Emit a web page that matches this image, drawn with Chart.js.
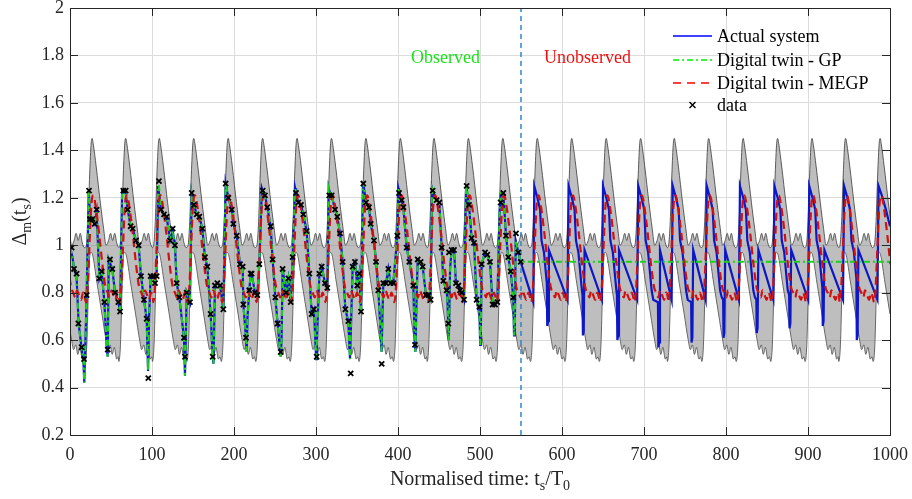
<!DOCTYPE html>
<html>
<head>
<meta charset="utf-8">
<script src="https://cdn.jsdelivr.net/npm/chart.js@4.4.1/dist/chart.umd.min.js"></script>
<style>
  html, body { margin: 0; padding: 0; background: #fff; }
  #wrap { width: 912px; height: 499px; }
</style>
</head>
<body>
<div id="wrap"><canvas id="c" width="912" height="499"></canvas></div>
<script>
// axis ticks
const xTickValues = [0, 100, 200, 300, 400, 500, 600, 700, 800, 900, 1000];
const yTickValues = [0.2, 0.4, 0.6, 0.8, 1, 1.2, 1.4, 1.6, 1.8, 2];
const legendLabels = ['Actual system', 'Digital twin - GP', 'Digital twin - MEGP', 'data'];
const splitTime = 550;

// times of the grey band peaks (one per cycle)
const bandPeakTimes = [-15, 27, 68, 109, 151, 193, 235, 277, 319, 361, 403, 444, 486, 528,
  570, 612, 654, 696, 737, 779, 821, 863, 905, 946, 988];

// one cycle of the band and of the MEGP mean, offsets from the band peak
const upperOffsets = [-7, -5, -3, -1.2, 0, 1.2, 5, 10, 14, 17, 20, 22.5, 25, 27.5, 30, 32.5];
const upperValues  = [1.00, 1.10, 1.30, 1.43, 1.45, 1.43, 1.33, 1.18, 1.07, 1.00, 1.02, 1.05, 1.02, 1.05, 1.01, 0.99];
const lowerOffsets = [-8.5, -6.5, -4.5, -3, -1.5, 0.5, 6, 12, 17, 19.5, 22, 24.5, 27, 30, 32];
const lowerValues  = [0.51, 0.58, 0.82, 0.95, 0.97, 0.96, 0.84, 0.71, 0.60, 0.56, 0.58, 0.54, 0.57, 0.52, 0.53];
const megpOffsets  = [-7.5, -5.5, -3.5, -1.5, 0, 1.5, 4.5, 8.5, 12.5, 16.5, 19, 21.5, 23.5, 26, 28.5, 31, 33];
const megpValues   = [0.76, 0.82, 0.98, 1.14, 1.20, 1.21, 1.16, 1.05, 0.92, 0.82, 0.80, 0.78, 0.81, 0.79, 0.77, 0.80, 0.78];

// actual system [t, value]
const actualSystem = [
  [0,0.99],[3,0.95],[5,0.90],[8,0.87],[10.5,0.67],[14,0.57],[16.5,0.50],[17.4,0.42],[18.5,0.55],[20.3,0.79],[22.8,1.23],
  [24.5,1.12],[27,1.11],[30,1.09],[32.5,1.14],[35.8,0.86],[38.6,0.89],[41.9,0.76],[45,0.56],[46,0.53],[47.2,0.94],[51.6,0.90],[54.9,0.80],[58.9,0.76],[61,0.72],[63.5,1.23],
  [65,1.23],[68,1.22],[70.3,1.15],[74,1.08],[76.4,1.07],[80.5,1.02],[83.7,1.0],[86.6,0.87],[90.2,0.77],[93.5,0.69],[95.2,0.47],[96.5,0.70],[98.4,0.87],[101.6,0.87],[103.7,0.85],[105.7,0.87],[107.5,1.25],
  [108.5,1.25],[111,1.15],[114.6,1.13],[117.9,1.12],[122,1.02],[125.2,1.06],[128,1.0],[130.1,0.84],[133.3,0.78],[139,0.61],[140.2,0.45],[141.2,0.60],[142.3,0.80],[146.3,0.76],[148.4,1.22],
  [151.2,1.17],[154.5,1.13],[157.7,1.12],[161.4,1.07],[164.6,0.95],[167.5,0.91],[171.5,0.71],[174,0.53],[175,0.50],[176.8,0.83],[179.7,0.84],[183,0.83],[187,0.73],[189.8,1.26],
  [193.1,1.20],[197.2,1.15],[199.2,1.09],[203.3,1.04],[207.3,0.92],[210.6,0.91],[211.4,0.75],[214.6,0.61],[215.5,0.55],[216.5,0.70],[218.7,0.81],[220.3,0.88],[222,0.87],[225.6,0.80],[228.4,0.79],[230.9,0.92],[234,1.24],
  [235,1.23],[237.8,1.21],[240.6,1.16],[244.7,1.08],[247.1,0.94],[250.4,0.78],[253.2,0.67],[256.9,0.53],[258,0.60],[259.3,0.90],[263.4,0.80],[266.3,0.86],[269.1,0.76],[271.5,0.95],[274.5,1.24],
  [275.6,1.22],[278.4,1.18],[281.7,1.17],[284.5,1.13],[288.6,1.06],[291.9,0.88],[294.7,0.71],[297.5,0.73],[300.2,0.52],[301.2,0.60],[304.1,0.88],[306.9,0.91],[311,0.84],[313.8,0.82],[315.5,1.24],
  [316.2,1.23],[319.1,1.21],[323.2,1.15],[326,1.12],[329.3,1.05],[332.5,0.93],[335.8,0.73],[339.4,0.68],[341.5,0.52],[343,0.70],[344.7,0.91],[347.5,0.93],[350.4,0.83],[352.8,0.88],[354.9,0.72],[357.2,1.26],
  [357.7,1.26],[361,1.18],[364.6,1.16],[366.7,1.09],[370.7,1.02],[373.2,0.93],[376,0.81],[379,0.62],[380,0.55],[381,0.70],[382.1,0.84],[385.4,0.84],[388.2,0.90],[391,0.84],[394.3,0.84],[399.2,1.04],[400.5,1.24],
  [401.2,1.23],[404.5,1.19],[406.5,1.16],[410.6,0.99],[413.8,0.93],[418.7,0.83],[420.3,0.60],[421.2,0.55],[422.5,0.75],[424,0.94],[427.6,0.93],[430.1,0.91],[434.1,0.79],[437,0.79],[439.8,0.77],[441.5,1.24],
  [442.3,1.23],[447.1,1.19],[450.4,1.18],[453.2,0.99],[455.3,0.85],[459.3,0.81],[460.5,0.75],[461.4,0.64],[462,0.60],[463.5,0.90],[465.4,0.98],[468.3,0.98],[470.7,0.84],[473.6,0.83],[475.6,0.81],[477.6,0.80],[480.5,0.77],[483,1.25],
  [483.7,1.25],[486.6,1.17],[489.8,1.03],[492.7,1.01],[495.9,0.77],[499.2,0.74],[500.2,0.58],[501,0.62],[502,0.92],[506.1,0.97],[508.9,0.96],[512.2,0.93],[515.4,0.75],[518.3,0.75],[521.1,0.76],[524,1.15],[525.5,1.22],
  [528.4,1.22],[531.7,1.04],[534.5,0.95],[537.4,0.89],[540.6,0.78],[541.5,0.62],[542.5,0.65],[543.5,1.02],[546.7,0.97],[549.6,0.93],
  // unobserved part
  [565,0.76],[566.2,1.25],[570,1.20],[573.3,1.15],[575,1.02],[578,0.97],[581.5,0.84],[582,0.66],[583,0.68],[584,0.98],
  [606.7,0.77],[608,1.25],[612,1.20],[615.3,1.15],[617,1.02],[620,0.97],[624.3,0.81],[625,0.79],[625.5,0.62],[626.5,0.64],[627.5,0.98],
  [648.7,0.77],[650,1.25],[654,1.20],[657.3,1.15],[659,1.02],[662,0.97],[666.3,0.81],[667,0.79],[667.5,0.60],[668.5,0.62],[669.5,0.98],
  [691.7,0.77],[693,1.25],[697,1.20],[700.3,1.15],[702,1.02],[705,0.97],[709.3,0.81],[711.3,0.77],[717,0.76],[717.5,0.57],[718.5,0.59],[719.5,0.98],
  [733.7,0.77],[735,1.25],[739,1.20],[742.3,1.15],[744,1.02],[747,0.97],[751.3,0.81],[753.3,0.77],[757.5,0.76],[758,0.59],[759,0.61],[760,0.98],
  [775.2,0.77],[776.5,1.25],[780.5,1.20],[783.8,1.15],[785.5,1.02],[788.5,0.97],[792.8,0.81],[794.8,0.78],[796.5,0.77],[797,0.61],[798,0.63],[799,0.98],
  [815.7,0.77],[817,1.25],[821,1.20],[824.3,1.15],[826,1.02],[829,0.97],[833.3,0.81],[835.3,0.78],[837,0.77],[837.5,0.63],[838.5,0.65],[839.5,0.98],
  [857.7,0.77],[859,1.25],[863,1.20],[866.3,1.15],[868,1.02],[871,0.97],[875.3,0.81],[877,0.79],[877.5,0.65],[878.5,0.67],[879.5,0.98],
  [900.2,0.77],[901.5,1.25],[905.5,1.20],[908.8,1.15],[910.5,1.02],[913.5,0.97],[917.5,0.82],[918,0.66],[919,0.68],[920,0.98],
  [942.7,0.77],[944,1.25],[948,1.20],[951.3,1.15],[953,1.02],[956,0.97],[959,0.86],[959.5,0.60],[960.5,0.62],[961.5,0.98],
  [984.7,0.77],[986,1.25],[990,1.21],[995,1.15],[1000,1.08],[1003,1.0]
];

// GP: follows the measurements while observed, then a flat forecast
const gpForecast = [[550,0.93],[1000,0.93]];

// measured data [t, value]
const measured = [
  [2.0,0.99],[4.9,0.90],[8.1,0.88],[10.2,0.67],[14.2,0.57],[17.1,0.52],[20.3,0.79],[23.2,1.23],[24.4,1.11],[27.2,1.11],[30.1,1.09],[32.5,1.15],
  [35.8,0.86],[38.6,0.89],[41.9,0.76],[46.0,0.56],[48.8,0.94],[51.6,0.90],[54.9,0.80],[58.9,0.76],[61.0,0.72],[65.0,1.23],[67.9,1.23],[70.3,1.15],
  [74.0,1.08],[76.4,1.07],[80.5,1.02],[83.7,1.00],[86.6,0.87],[90.2,0.77],[93.5,0.69],[95.5,0.44],[98.4,0.87],[101.6,0.87],[103.7,0.84],[105.7,0.87],
  [108.5,1.27],[111.0,1.15],[114.6,1.13],[117.9,1.12],[122.0,1.02],[125.2,1.07],[128.0,1.00],[130.1,0.84],[133.3,0.78],[139.0,0.61],[140.2,0.53],
  [142.3,0.80],[146.3,0.76],[148.4,1.22],[151.2,1.17],[154.5,1.13],[157.7,1.12],[161.4,1.07],[164.6,0.95],[167.5,0.91],[171.5,0.71],[174.0,0.53],
  [176.8,0.83],[179.7,0.84],[183.0,0.83],[187.0,0.73],[189.8,1.26],[193.1,1.20],[197.2,1.15],[199.2,1.09],[203.3,1.04],[207.3,0.92],[210.6,0.91],
  [211.4,0.75],[214.6,0.61],[218.7,0.81],[220.3,0.88],[221.5,0.88],[225.6,0.80],[228.4,0.79],[230.9,0.92],[235.0,1.23],[237.8,1.21],[240.6,1.16],
  [244.7,1.08],[247.1,0.94],[250.4,0.78],[253.2,0.67],[256.9,0.55],[259.3,0.90],[263.4,0.80],[266.3,0.86],[269.1,0.76],[271.5,0.95],[275.6,1.22],
  [278.4,1.18],[281.7,1.17],[284.5,1.13],[288.6,1.06],[291.9,0.88],[294.7,0.71],[297.5,0.73],[300.8,0.53],[304.1,0.88],[306.9,0.91],[311.0,0.84],
  [313.8,0.82],[316.2,1.21],[319.1,1.21],[323.2,1.15],[326.0,1.12],[329.3,1.05],[332.5,0.93],[335.8,0.73],[339.4,0.68],[342.3,0.46],[344.7,0.91],
  [347.5,0.93],[350.4,0.83],[352.8,0.88],[354.9,0.72],[357.7,1.26],[361.0,1.18],[364.6,1.16],[366.7,1.09],[370.7,1.02],[373.2,0.93],[376.0,0.81],
  [380.1,0.50],[382.1,0.84],[385.4,0.84],[388.2,0.90],[391.0,0.84],[394.3,0.84],[399.2,1.04],[401.2,1.22],[404.5,1.19],[406.5,1.16],[410.6,0.99],
  [413.8,0.93],[418.7,0.83],[420.7,0.58],[424.0,0.94],[427.6,0.93],[430.1,0.91],[434.1,0.79],[437.0,0.79],[439.8,0.77],[442.3,1.23],[447.1,1.19],
  [450.4,1.18],[453.2,0.99],[455.3,0.85],[459.3,0.81],[461.4,0.67],[462.2,0.97],[465.4,0.98],[468.3,0.98],[470.7,0.84],[473.6,0.83],[475.6,0.81],
  [477.6,0.80],[480.5,0.77],[483.7,1.25],[486.6,1.17],[489.8,1.03],[492.7,1.01],[495.9,0.77],[499.2,0.74],[502.0,0.92],[506.1,0.97],[508.9,0.96],
  [512.2,0.93],[515.4,0.75],[518.3,0.75],[521.1,0.76],[525.2,1.18],[528.4,1.22],[531.7,1.04],[534.5,0.95],[537.4,0.89],[540.6,0.78],[543.9,1.05],
  [546.7,0.97],[549.6,0.93]
];

const BLUE = '#0c17c8', GREEN = '#19d219', RED = '#cf1111';

// repeat one read cycle at every peak time
function cycles(offsets, values) {
  const pts = [];
  bandPeakTimes.forEach(p => offsets.forEach((o, i) => pts.push({ x: p + o, y: values[i] })));
  return pts;
}
const pairs = arr => arr.map(d => ({ x: d[0], y: d[1] }));

const gpLine = pairs(actualSystem.filter(d => d[0] < splitTime)).concat(pairs(gpForecast));

function drawRich(ctx, parts, x, y) {
  // parts: [text, isSub]; centred on x, baseline y
  const big = '20px "Liberation Serif"', small = '14px "Liberation Serif"';
  let w = 0;
  parts.forEach(p => { ctx.font = p[1] ? small : big; w += ctx.measureText(p[0]).width; });
  let cx = x - w / 2;
  parts.forEach(p => {
    ctx.font = p[1] ? small : big;
    ctx.fillText(p[0], cx, p[1] ? y + 5 : y);
    cx += ctx.measureText(p[0]).width;
  });
}

const framePlugin = {
  id: 'frame',
  afterDraw(chart) {
    const { ctx, chartArea: a, scales: { x, y } } = chart;
    ctx.save();
    ctx.strokeStyle = '#262626';
    ctx.lineWidth = 1;
    ctx.beginPath();
    xTickValues.forEach(v => {
      const px = Math.round(x.getPixelForValue(v)) + 0.5;
      ctx.moveTo(px, a.bottom); ctx.lineTo(px, a.bottom - 8);
      ctx.moveTo(px, a.top); ctx.lineTo(px, a.top + 8);
    });
    yTickValues.forEach(v => {
      const py = Math.round(y.getPixelForValue(v)) + 0.5;
      ctx.moveTo(a.left, py); ctx.lineTo(a.left + 8, py);
      ctx.moveTo(a.right, py); ctx.lineTo(a.right - 8, py);
    });
    ctx.stroke();
    ctx.strokeRect(Math.round(a.left) + 0.5, Math.round(a.top) + 0.5, Math.round(a.right - a.left), Math.round(a.bottom - a.top));

    // axis titles
    ctx.fillStyle = '#262626';
    ctx.textBaseline = 'alphabetic';
    ctx.textAlign = 'left';
    drawRich(ctx, [['Normalised time: t', false], ['s', true], ['/T', false], ['0', true]], (a.left + a.right) / 2, 485);
    ctx.save();
    ctx.translate(26, (a.top + a.bottom) / 2);
    ctx.rotate(-Math.PI / 2);
    drawRich(ctx, [['\u0394', false], ['m', true], ['(t', false], ['s', true], [')', false]], 0, 0);
    ctx.restore();

    // region labels
    ctx.font = '18px "Liberation Serif"';
    ctx.textAlign = 'center';
    ctx.textBaseline = 'middle';
    ctx.fillStyle = '#1ee01e';
    ctx.fillText('Observed', x.getPixelForValue(458), y.getPixelForValue(1.79));
    ctx.fillStyle = '#ee1111';
    ctx.fillText('Unobserved', x.getPixelForValue(631), y.getPixelForValue(1.79));

    // legend
    const lx0 = 673, lx1 = 712, tx = 717;
    const rows = [36, 60, 83, 105];
    const styles = [
      { c: '#0000ff', d: [] },
      { c: '#00ee00', d: [6, 3, 2, 3] },
      { c: '#ff0000', d: [8, 6] }
    ];
    styles.forEach((s, i) => {
      ctx.strokeStyle = s.c; ctx.lineWidth = 1.6; ctx.setLineDash(s.d);
      ctx.beginPath(); ctx.moveTo(lx0, rows[i]); ctx.lineTo(lx1, rows[i]); ctx.stroke();
    });
    ctx.setLineDash([]);
    ctx.strokeStyle = '#000'; ctx.lineWidth = 1.4;
    const mx = (lx0 + lx1) / 2, my = rows[3];
    ctx.beginPath();
    ctx.moveTo(mx - 3, my - 3); ctx.lineTo(mx + 3, my + 3);
    ctx.moveTo(mx + 3, my - 3); ctx.lineTo(mx - 3, my + 3);
    ctx.stroke();
    ctx.font = '18px "Liberation Serif"';
    ctx.fillStyle = '#000';
    ctx.textAlign = 'left';
    legendLabels.forEach((t, i) => ctx.fillText(t, tx, rows[i] + 1));
    ctx.restore();
  }
};

Chart.defaults.font.family = '"Liberation Serif"';
Chart.defaults.font.size = 18;
Chart.defaults.color = '#262626';

const bandStyle = { borderColor: '#3a3a3a', borderWidth: 0.8, pointRadius: 0, cubicInterpolationMode: 'monotone', clip: 0 };

new Chart(document.getElementById('c').getContext('2d'), {
  type: 'line',
  data: {
    datasets: [
      Object.assign({ label: 'band upper', data: cycles(upperOffsets, upperValues), order: 10,
        fill: '+1', backgroundColor: 'rgba(120,120,120,0.48)' }, bandStyle),
      Object.assign({ label: 'band lower', data: cycles(lowerOffsets, lowerValues), order: 11, fill: false }, bandStyle),
      { label: legendLabels[0], data: pairs(actualSystem), order: 5,
        borderColor: BLUE, borderWidth: 2.2, pointRadius: 0, fill: false, clip: 0 },
      { label: legendLabels[1], data: gpLine, order: 4,
        borderColor: GREEN, borderWidth: 2, borderDash: [6, 3, 2, 3], pointRadius: 0, fill: false, clip: 0 },
      { label: legendLabels[2], data: cycles(megpOffsets, megpValues), order: 3,
        borderColor: RED, borderWidth: 2.2, borderDash: [8, 5], pointRadius: 0, cubicInterpolationMode: 'monotone', fill: false, clip: 0 },
      { label: 'split', data: [{ x: splitTime, y: 0.2 }, { x: splitTime, y: 2 }], order: 2,
        borderColor: '#2e88c9', borderWidth: 1.5, borderDash: [5, 4], pointRadius: 0, fill: false },
      { label: legendLabels[3], data: pairs(measured), order: 1, showLine: false,
        pointStyle: 'crossRot', pointRadius: 3.6, borderColor: '#000', borderWidth: 1.8, backgroundColor: '#000' }
    ]
  },
  options: {
    responsive: false,
    animation: false,
    devicePixelRatio: 1,
    layout: { padding: { top: 8, right: 22, left: 0, bottom: 0 } },
    plugins: { legend: { display: false }, tooltip: { enabled: false } },
    scales: {
      x: {
        type: 'linear', min: 0, max: 1000,
        afterBuildTicks: s => { s.ticks = xTickValues.map(v => ({ value: v })); },
        afterFit: s => { s.height = 64; s.paddingLeft = 0; s.paddingRight = 0; },
        grid: { color: '#dcdcdc', drawTicks: false },
        border: { display: false },
        ticks: { padding: 9, maxRotation: 0, autoSkip: false, font: { size: 18 }, callback: v => String(v) }
      },
      y: {
        type: 'linear', min: 0.2, max: 2,
        afterBuildTicks: s => { s.ticks = yTickValues.map(v => ({ value: v })); },
        afterFit: s => { s.width = 70; s.paddingTop = 0; s.paddingBottom = 0; },
        grid: { color: '#dcdcdc', drawTicks: false },
        border: { display: false },
        ticks: { padding: 6, autoSkip: false, font: { size: 18 }, callback: v => String(+Number(v).toFixed(1)) }
      }
    }
  },
  plugins: [framePlugin]
});
</script>
</body>
</html>
